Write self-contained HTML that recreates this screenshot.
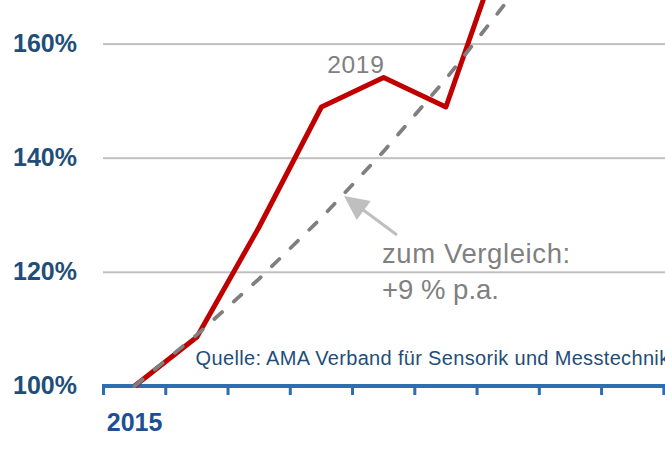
<!DOCTYPE html>
<html><head><meta charset="utf-8">
<style>
html,body{margin:0;padding:0;background:#fff;}
body{width:665px;height:450px;overflow:hidden;}
svg{display:block;}
text{font-family:"Liberation Sans",sans-serif;}
</style></head><body>
<svg width="665" height="450" viewBox="0 0 665 450">
<rect x="0" y="0" width="665" height="450" fill="#fff"/>
<g fill="#c0c0c0">
<rect x="103" y="43.1" width="562" height="2"/>
<rect x="103" y="157.2" width="562" height="2"/>
<rect x="103" y="271.3" width="562" height="2"/>
</g>
<g font-weight="bold" font-size="25" fill="#1f4e79" text-anchor="end">
<text x="77" y="51.5">160%</text>
<text x="77" y="165.5">140%</text>
<text x="77" y="279.5">120%</text>
<text x="77" y="393.5">100%</text>
</g>
<text x="134.6" y="430.5" font-weight="bold" font-size="25" fill="#1c5096" text-anchor="middle">2015</text>
<text x="195.6" y="364.8" font-size="20" letter-spacing="0.33" fill="#1f4e79">Quelle: AMA Verband für Sensorik und Messtechnik</text>
<rect x="102" y="384" width="563" height="4" fill="#2c6eb0"/>
<g fill="#2c6eb0">
<rect x="102" y="386" width="3" height="9"/>
<rect x="164.26" y="386" width="3" height="9"/>
<rect x="226.52" y="386" width="3" height="9"/>
<rect x="288.78" y="386" width="3" height="9"/>
<rect x="351.04" y="386" width="3" height="9"/>
<rect x="413.3" y="386" width="3" height="9"/>
<rect x="475.56" y="386" width="3" height="9"/>
<rect x="537.82" y="386" width="3" height="9"/>
<rect x="600.08" y="386" width="3" height="9"/>
<rect x="662.34" y="386" width="3" height="9"/>
</g>
<polyline fill="none" stroke="#c00000" stroke-width="5" stroke-linejoin="round"
 points="134.6,386 196.9,337 259.1,227 321.4,107 383.6,77.5 445.9,107 508.1,-71.5"/>
<polyline fill="none" stroke="#7f7f7f" stroke-width="3.75" stroke-linecap="round" stroke-dasharray="10.3 15.75"
 points="134.6,386 196.9,334.7 259.1,278.8 321.4,217.8 383.6,151.4 445.9,79 508.1,0 570.4,-86"/>

<text x="327.2" y="73" font-size="24.5" letter-spacing="0.7" fill="#808080">2019</text>
<text x="382" y="262.5" font-size="27.5" letter-spacing="0.6" fill="#808080">zum Vergleich:</text>
<text x="382" y="299" font-size="27.5" fill="#808080">+9 % p.a.</text>
<line x1="397" y1="235" x2="362" y2="209" stroke="#bfbfbf" stroke-width="3"/>
<polygon points="344,196 370.7,201 356.7,220" fill="#bfbfbf"/>
</svg>
</body></html>
